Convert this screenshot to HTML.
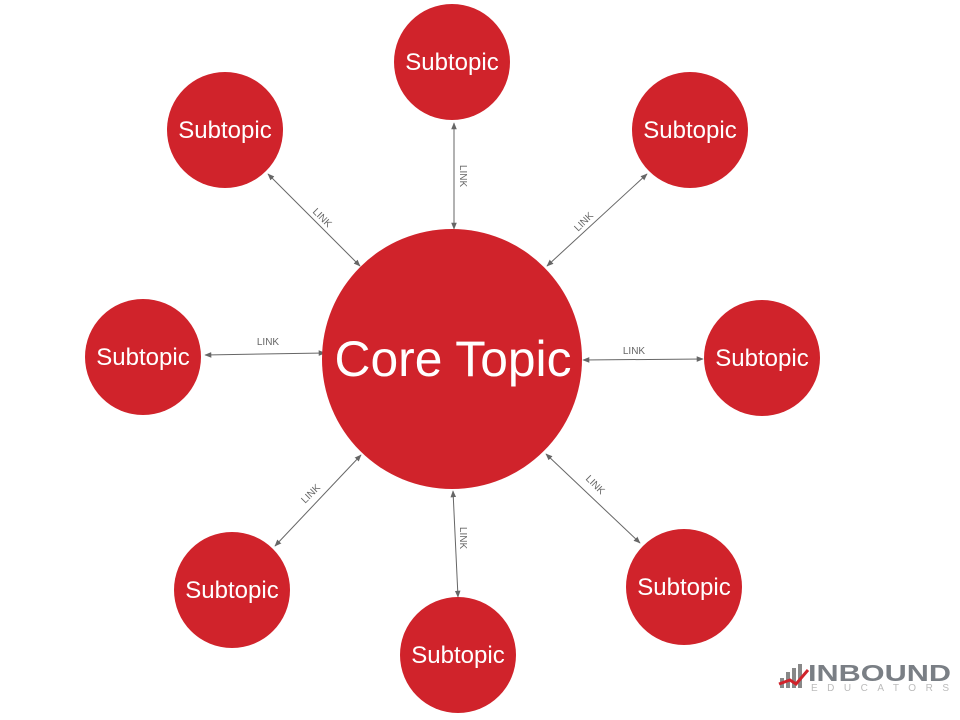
<!DOCTYPE html>
<html><head><meta charset="utf-8"><style>
html,body{margin:0;padding:0;background:#fff;}
svg{display:block;font-family:"Liberation Sans",sans-serif;}
</style></head><body>
<svg width="960" height="720" viewBox="0 0 960 720" xmlns="http://www.w3.org/2000/svg">
<defs>
<marker id="a" viewBox="0 0 10 10" refX="9" refY="5" markerWidth="7" markerHeight="7" orient="auto-start-reverse">
<path d="M0,1 L10,5 L0,9 z" fill="#666"/></marker>
</defs>
<g stroke="#666" stroke-width="1" marker-start="url(#a)" marker-end="url(#a)">
<line x1="454" y1="123" x2="454" y2="229"/>
<line x1="268" y1="174" x2="360" y2="266"/>
<line x1="647" y1="174" x2="547" y2="266"/>
<line x1="205" y1="355" x2="325" y2="353"/>
<line x1="583" y1="360" x2="703" y2="359"/>
<line x1="361" y1="455" x2="275" y2="546"/>
<line x1="453" y1="491" x2="458" y2="597"/>
<line x1="546" y1="454" x2="640" y2="543"/>
</g>
<g font-size="10" fill="#666" text-anchor="middle">
<text transform="translate(460,176) rotate(90)">LINK</text>
<text transform="translate(320,220) rotate(45)">LINK</text>
<text transform="translate(586,224) rotate(-45)">LINK</text>
<text x="268" y="345">LINK</text>
<text x="634" y="354">LINK</text>
<text transform="translate(313,496) rotate(-45)">LINK</text>
<text transform="translate(460,538) rotate(90)">LINK</text>
<text transform="translate(593,487) rotate(45)">LINK</text>
</g>
<g fill="#d0232b">
<circle cx="452" cy="359" r="130"/>
<circle cx="452" cy="62" r="58"/>
<circle cx="225" cy="130" r="58"/>
<circle cx="690" cy="130" r="58"/>
<circle cx="143" cy="357" r="58"/>
<circle cx="762" cy="358" r="58"/>
<circle cx="232" cy="590" r="58"/>
<circle cx="458" cy="655" r="58"/>
<circle cx="684" cy="587" r="58"/>
</g>
<g fill="#fff" text-anchor="middle" font-size="24">
<text x="453" y="376" font-size="50" textLength="237" lengthAdjust="spacingAndGlyphs">Core Topic</text>
<text x="452" y="70">Subtopic</text>
<text x="225" y="138">Subtopic</text>
<text x="690" y="138">Subtopic</text>
<text x="143" y="365">Subtopic</text>
<text x="762" y="366">Subtopic</text>
<text x="232" y="598">Subtopic</text>
<text x="458" y="663">Subtopic</text>
<text x="684" y="595">Subtopic</text>
</g>
<g>
<rect x="780" y="678" width="4" height="10" fill="#888"/>
<rect x="786" y="672" width="4" height="16" fill="#888"/>
<rect x="792" y="668" width="4" height="20" fill="#888"/>
<rect x="798" y="664" width="4" height="24" fill="#888"/>
<path d="M779,684 L790,680 L796,684 L808,670" stroke="#d0232b" stroke-width="3" fill="none"/>
<text x="808" y="681" font-size="23" font-weight="bold" fill="#7a7f85" textLength="143" lengthAdjust="spacingAndGlyphs">INBOUND</text>
<text x="811" y="691" font-size="10" fill="#bbb" textLength="138" lengthAdjust="spacing">EDUCATORS</text>
</g>
</svg>
</body></html>
